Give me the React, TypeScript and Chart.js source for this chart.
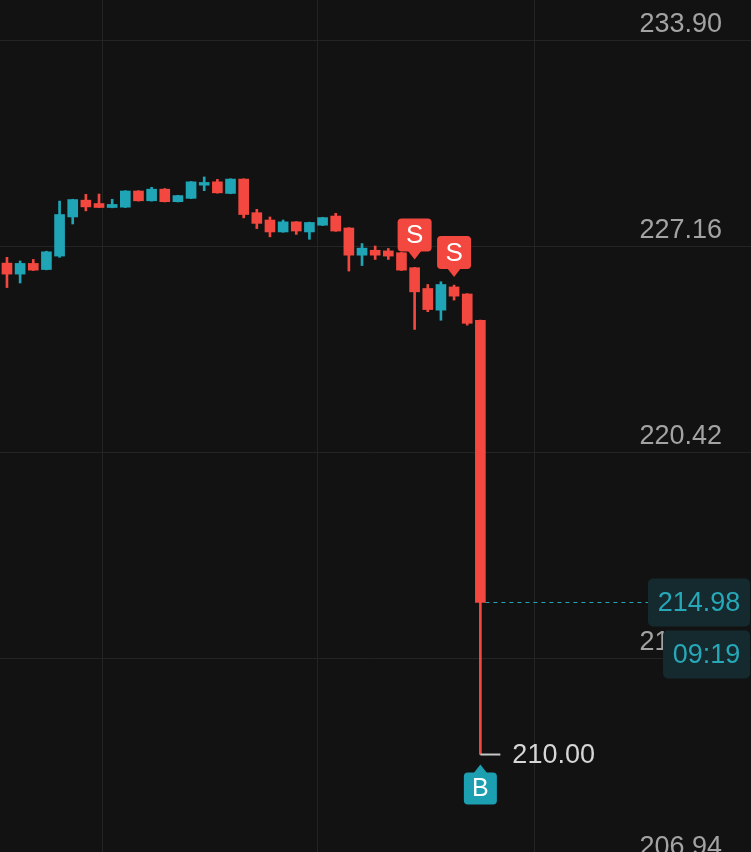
import { useEffect, useRef } from "react";
import { Chart, registerables } from "chart.js";

Chart.register(...registerables);

// candles, oldest first
const opens = [
  226.08, 225.72, 226.07, 225.87, 226.31, 227.59, 228.14, 228.03, 227.9, 227.91,
  228.44, 228.12, 228.5, 228.09, 228.2, 228.63, 228.74, 228.36, 228.83, 227.73,
  227.49, 227.1, 227.43, 227.1, 227.32, 227.62, 227.23, 226.34, 226.5, 226.48,
  226.42, 225.93, 225.25, 224.54, 225.3, 225.07, 224.21,
];
const highs = [
  226.27, 226.15, 226.2, 226.47, 228.11, 228.17, 228.33, 228.34, 228.17, 228.45,
  228.45, 228.56, 228.52, 228.3, 228.75, 228.9, 228.82, 228.84, 228.84, 227.84,
  227.59, 227.49, 227.44, 227.42, 227.58, 227.71, 227.24, 226.72, 226.64, 226.56,
  226.43, 225.94, 225.38, 225.47, 225.36, 225.08, 224.22,
];
const lows = [
  225.28, 225.43, 225.84, 225.86, 226.27, 227.36, 227.79, 227.9, 227.89, 227.9,
  228.11, 228.11, 228.08, 228.08, 228.19, 228.45, 228.37, 228.35, 227.56, 227.21,
  226.94, 227.09, 227.02, 226.86, 227.31, 227.12, 225.82, 226.0, 226.2, 226.2,
  225.84, 223.91, 224.49, 224.21, 224.87, 224.05, 210.0,
];
const closes = [
  225.72, 226.07, 225.85, 226.45, 227.67, 228.16, 227.92, 227.9, 228.0, 228.44,
  228.12, 228.5, 228.09, 228.29, 228.74, 228.72, 228.38, 228.83, 227.67, 227.38,
  227.1, 227.43, 227.13, 227.41, 227.57, 227.13, 226.34, 226.57, 226.34, 226.31,
  225.85, 225.14, 224.56, 225.38, 225.0, 224.11, 214.98,
];

const yTickValues = [233.9, 227.16, 220.42, 213.68, 206.94];
const yMin = 206.81;
const yMax = 234.69;
const xMin = -0.53;
const xMax = 56.58;
const xGridAt = [7.3, 23.65, 40.08];

const sellSignals = [31, 34];
const buySignals = [36];
const lowMark = 36;
const countdown = "09:19";

const UP = "#1fa5b6";
const DOWN = "#f2483f";
const BG = "#121212";
const GRID = "#242424";
const FONT = '"Liberation Sans", Arial, sans-serif';

const candleColor = (i: number) => (closes[i] >= opens[i] ? UP : DOWN);

const overlay = {
  id: "overlay",
  beforeDatasetsDraw(chart: any) {
    const { ctx, chartArea, scales } = chart;
    ctx.save();
    ctx.strokeStyle = GRID;
    ctx.lineWidth = 1;
    yTickValues.forEach((v) => {
      const py = Math.round(scales.y.getPixelForValue(v) + 16) + 0.5;
      ctx.beginPath();
      ctx.moveTo(chartArea.left, py);
      ctx.lineTo(chartArea.right, py);
      ctx.stroke();
    });
    ctx.restore();
  },
  afterDraw(chart: any) {
    const { ctx, chartArea, scales } = chart;
    const xs = scales.x;
    const ys = scales.y;
    ctx.save();

    // sell markers above the high
    sellSignals.forEach((i) => {
      const cx = xs.getPixelForValue(i);
      const tip = ys.getPixelForValue(highs[i]) - 8;
      const bottom = tip - 8;
      ctx.fillStyle = DOWN;
      ctx.beginPath();
      ctx.roundRect(cx - 17, bottom - 33, 34, 33, 4);
      ctx.fill();
      ctx.beginPath();
      ctx.moveTo(cx - 7, bottom - 1);
      ctx.lineTo(cx + 7, bottom - 1);
      ctx.lineTo(cx, tip);
      ctx.fill();
      ctx.fillStyle = "#ffffff";
      ctx.font = `26px ${FONT}`;
      ctx.textAlign = "center";
      ctx.textBaseline = "middle";
      ctx.fillText("S", cx, bottom - 15.5);
    });

    // buy markers under the low
    buySignals.forEach((i) => {
      const cx = xs.getPixelForValue(i);
      const tip = ys.getPixelForValue(lows[i]) + 10;
      const top = tip + 8;
      ctx.fillStyle = "#1c9fb0";
      ctx.beginPath();
      ctx.roundRect(cx - 16.5, top, 33, 32, 4);
      ctx.fill();
      ctx.beginPath();
      ctx.moveTo(cx - 7, top + 1);
      ctx.lineTo(cx + 7, top + 1);
      ctx.lineTo(cx, tip);
      ctx.fill();
      ctx.fillStyle = "#ffffff";
      ctx.font = `25px ${FONT}`;
      ctx.textAlign = "center";
      ctx.textBaseline = "middle";
      ctx.fillText("B", cx, top + 17);
    });

    // lowest price tag
    {
      const cx = xs.getPixelForValue(lowMark);
      const py = ys.getPixelForValue(lows[lowMark]);
      ctx.strokeStyle = "#c8c8c8";
      ctx.lineWidth = 2;
      ctx.beginPath();
      ctx.moveTo(cx, py);
      ctx.lineTo(cx + 20, py);
      ctx.stroke();
      ctx.fillStyle = "#d6d6d6";
      ctx.font = `27px ${FONT}`;
      ctx.textAlign = "left";
      ctx.textBaseline = "middle";
      ctx.fillText(lows[lowMark].toFixed(2), cx + 32, py + 1);
    }

    // last price line and tags
    {
      const last = closes.length - 1;
      const cx = xs.getPixelForValue(last);
      const py = Math.round(ys.getPixelForValue(closes[last])) + 0.5;
      const boxLeft = chartArea.right - 103;
      ctx.strokeStyle = UP;
      ctx.lineWidth = 1.2;
      ctx.setLineDash([4, 4]);
      ctx.beginPath();
      ctx.moveTo(cx + 5, py);
      ctx.lineTo(boxLeft, py);
      ctx.stroke();
      ctx.setLineDash([]);

      ctx.fillStyle = "#142a2e";
      ctx.beginPath();
      ctx.roundRect(boxLeft, py - 24, 102, 48, 5);
      ctx.fill();
      ctx.beginPath();
      ctx.roundRect(chartArea.right - 88, py + 28, 87, 48, 5);
      ctx.fill();

      ctx.fillStyle = "#27a8b8";
      ctx.font = `27px ${FONT}`;
      ctx.textAlign = "center";
      ctx.textBaseline = "middle";
      ctx.fillText(closes[last].toFixed(2), boxLeft + 51, py + 1);
      ctx.fillText(countdown, chartArea.right - 44.5, py + 53);
    }
    ctx.restore();
  },
};

const App = () => {
  const chartRef: any = useRef(null);

  useEffect(() => {
    document.body.style.margin = "0";
    document.body.style.background = BG;
    const ctx = chartRef.current.getContext("2d");

    const theChart = new Chart(ctx, {
      type: "bar",
      data: {
        datasets: [
          {
            label: "body",
            data: opens.map((o, i) => ({ x: i, y: [o, closes[i]] })) as any,
            backgroundColor: opens.map((_, i) => candleColor(i)),
            barThickness: 10,
            minBarLength: 2,
            borderWidth: 0,
            grouped: false,
          },
          {
            label: "wick",
            data: lows.map((l, i) => ({ x: i, y: [l, highs[i]] })) as any,
            backgroundColor: opens.map((_, i) => candleColor(i)),
            barThickness: 2,
            borderWidth: 0,
            grouped: false,
          },
        ],
      },
      options: {
        responsive: true,
        maintainAspectRatio: false,
        animation: false,
        layout: { padding: 0 },
        plugins: {
          legend: { display: false },
          tooltip: { enabled: false },
        },
        scales: {
          x: {
            type: "linear",
            offset: false,
            min: xMin,
            max: xMax,
            afterBuildTicks: (scale: any) => {
              scale.ticks = xGridAt.map((v) => ({ value: v }));
            },
            ticks: { display: false },
            grid: { color: GRID, drawTicks: false, offset: false },
            border: { display: false },
          },
          y: {
            position: "right",
            min: yMin,
            max: yMax,
            afterBuildTicks: (scale: any) => {
              scale.ticks = yTickValues.map((v) => ({ value: v }));
            },
            ticks: {
              mirror: true,
              padding: -29,
              color: "#a3a3a3",
              font: { size: 27, family: FONT },
              callback: (v: any) => Number(v).toFixed(2),
            },
            grid: { display: false, drawTicks: false },
            border: { display: false },
          },
        },
      },
      plugins: [overlay],
    });

    return () => {
      theChart.destroy();
    };
  }, []);

  return (
    <div style={{ width: 751, height: 852, background: BG }}>
      <canvas ref={chartRef} />
    </div>
  );
};

export default App;
